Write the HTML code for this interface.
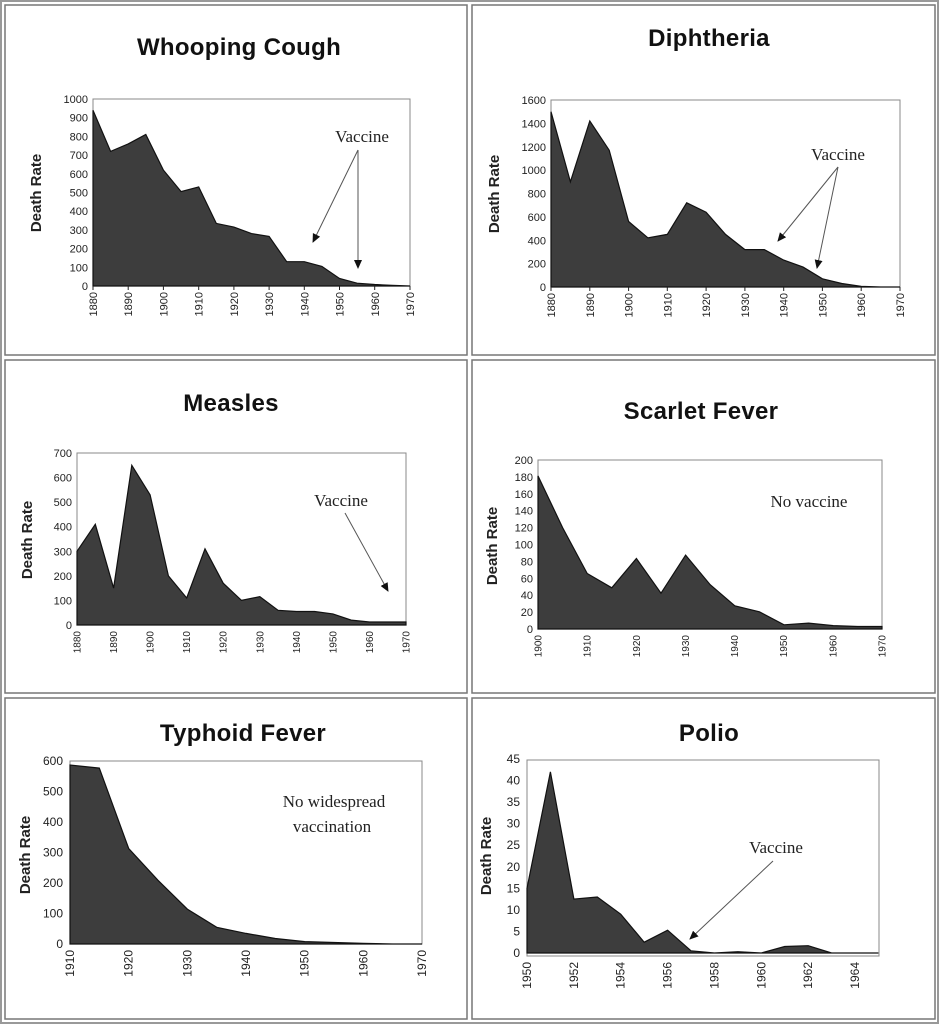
<!DOCTYPE html>
<html><head><meta charset="utf-8"><style>
html,body{margin:0;padding:0;background:#fff;}
svg{display:block;}
.t{font-family:"Liberation Sans",sans-serif;font-weight:bold;font-size:24px;letter-spacing:0.3px;fill:#111;text-anchor:middle;}
.yl{font-family:"Liberation Sans",sans-serif;font-size:11px;fill:#222;text-anchor:end;}
.xl{font-family:"Liberation Sans",sans-serif;font-size:11px;fill:#222;text-anchor:end;}
.ax{font-family:"Liberation Sans",sans-serif;font-weight:bold;font-size:15px;fill:#222;text-anchor:middle;}
.an{font-family:"Liberation Serif",serif;font-size:17px;fill:#222;text-anchor:middle;}
.box{fill:none;stroke:#888;stroke-width:1;}
.area{fill:#3d3d3d;stroke:#111;stroke-width:1.2;}
.arr{stroke:#555;stroke-width:1;fill:none;}
.tk{stroke:#222;stroke-width:1;}
</style></head><body>
<svg width="939" height="1024" viewBox="0 0 939 1024" xmlns="http://www.w3.org/2000/svg">
<defs><marker id="ah" markerWidth="10" markerHeight="10" refX="8" refY="5" orient="auto" markerUnits="userSpaceOnUse"><path d="M0,1 L9,5 L0,9 z" fill="#111"/></marker></defs>
<rect x="1" y="1" width="937" height="1022" fill="none" stroke="#999" stroke-width="2"/>
<rect x="5" y="5" width="462" height="350" fill="none" stroke="#777" stroke-width="1.5"/>
<rect x="472" y="5" width="463" height="350" fill="none" stroke="#777" stroke-width="1.5"/>
<rect x="5" y="360" width="462" height="333" fill="none" stroke="#777" stroke-width="1.5"/>
<rect x="472" y="360" width="463" height="333" fill="none" stroke="#777" stroke-width="1.5"/>
<rect x="5" y="698" width="462" height="321" fill="none" stroke="#777" stroke-width="1.5"/>
<rect x="472" y="698" width="463" height="321" fill="none" stroke="#777" stroke-width="1.5"/>

<!-- Chart 1 -->
<text class="t" x="239" y="55">Whooping Cough</text>
<rect class="box" x="93" y="99" width="317" height="187"/>
<polygon class="area" points="93,286 93,110.2 110.6,151.4 128.2,143.9 145.8,134.5 163.4,170.1 181.1,191.6 198.7,186.9 216.3,223.4 233.9,227.1 251.5,233.6 269.1,236.4 286.7,261.7 304.3,261.7 321.9,266.4 339.5,278.5 357.1,283.2 374.7,284.5 392.4,285.4 410,286"/>
<path class="tk" d="M93,286v4M128.2,286v4M163.4,286v4M198.7,286v4M233.9,286v4M269.1,286v4M304.3,286v4M339.5,286v4M374.7,286v4M410,286v4"/>
<g class="yl"><text x="88" y="290">0</text><text x="88" y="271.3">100</text><text x="88" y="252.6">200</text><text x="88" y="233.9">300</text><text x="88" y="215.2">400</text><text x="88" y="196.5">500</text><text x="88" y="177.8">600</text><text x="88" y="159.1">700</text><text x="88" y="140.4">800</text><text x="88" y="121.7">900</text><text x="88" y="103">1000</text></g>
<g class="xl">
<text transform="translate(97,292) rotate(-90)">1880</text><text transform="translate(132.2,292) rotate(-90)">1890</text><text transform="translate(167.4,292) rotate(-90)">1900</text><text transform="translate(202.7,292) rotate(-90)">1910</text><text transform="translate(237.9,292) rotate(-90)">1920</text><text transform="translate(273.1,292) rotate(-90)">1930</text><text transform="translate(308.3,292) rotate(-90)">1940</text><text transform="translate(343.5,292) rotate(-90)">1950</text><text transform="translate(378.8,292) rotate(-90)">1960</text><text transform="translate(414,292) rotate(-90)">1970</text></g>
<text class="ax" transform="translate(41,193) rotate(-90)">Death Rate</text>
<text class="an" x="362" y="142">Vaccine</text>
<line class="arr" x1="358" y1="150" x2="313" y2="242" marker-end="url(#ah)"/>
<line class="arr" x1="358" y1="150" x2="358" y2="268" marker-end="url(#ah)"/>

<!-- Chart 2 -->
<text class="t" x="709" y="46">Diphtheria</text>
<rect class="box" x="551" y="100" width="349" height="187"/>
<polygon class="area" points="551,287 551,111.7 570.4,181.8 589.8,121 609.2,150.2 628.6,221.5 648,237.9 667.3,234.4 686.7,202.8 706.1,212.2 725.5,234.4 744.9,249.6 764.3,249.6 783.7,260.1 803.1,267.1 822.4,278.8 841.8,283.5 861.2,286.4 880.6,287 900,287"/>
<path class="tk" d="M551,287v4M589.8,287v4M628.6,287v4M667.3,287v4M706.1,287v4M744.9,287v4M783.7,287v4M822.4,287v4M861.2,287v4M900,287v4"/>
<g class="yl"><text x="546" y="291">0</text><text x="546" y="267.6">200</text><text x="546" y="244.3">400</text><text x="546" y="220.9">600</text><text x="546" y="197.5">800</text><text x="546" y="174.1">1000</text><text x="546" y="150.8">1200</text><text x="546" y="127.4">1400</text><text x="546" y="104">1600</text></g>
<g class="xl">
<text transform="translate(555,293) rotate(-90)">1880</text><text transform="translate(593.8,293) rotate(-90)">1890</text><text transform="translate(632.6,293) rotate(-90)">1900</text><text transform="translate(671.3,293) rotate(-90)">1910</text><text transform="translate(710.1,293) rotate(-90)">1920</text><text transform="translate(748.9,293) rotate(-90)">1930</text><text transform="translate(787.7,293) rotate(-90)">1940</text><text transform="translate(826.4,293) rotate(-90)">1950</text><text transform="translate(865.2,293) rotate(-90)">1960</text><text transform="translate(904,293) rotate(-90)">1970</text></g>
<text class="ax" transform="translate(499,194) rotate(-90)">Death Rate</text>
<text class="an" x="838" y="160">Vaccine</text>
<line class="arr" x1="838" y1="167" x2="778" y2="241" marker-end="url(#ah)"/>
<line class="arr" x1="838" y1="167" x2="817" y2="268" marker-end="url(#ah)"/>

<!-- Chart 3 -->
<text class="t" x="231" y="411">Measles</text>
<rect class="box" x="77" y="453" width="329" height="172"/>
<polygon class="area" points="77,625 77,551.3 95.3,524.3 113.6,588.1 131.8,465.3 150.1,494.8 168.4,575.9 186.7,598 205,548.8 223.2,583.2 241.5,600.4 259.8,596.7 278.1,610.3 296.4,611.5 314.6,611.5 332.9,613.9 351.2,620.1 369.5,622 387.7,622 406,622 406,625"/>
<g class="yl"><text x="72" y="629">0</text><text x="72" y="604.4">100</text><text x="72" y="579.9">200</text><text x="72" y="555.3">300</text><text x="72" y="530.7">400</text><text x="72" y="506.1">500</text><text x="72" y="481.6">600</text><text x="72" y="457">700</text></g>
<g class="xl" style="font-size:10px">
<text transform="translate(80.5,631) rotate(-90)">1880</text><text transform="translate(117.1,631) rotate(-90)">1890</text><text transform="translate(153.6,631) rotate(-90)">1900</text><text transform="translate(190.2,631) rotate(-90)">1910</text><text transform="translate(226.7,631) rotate(-90)">1920</text><text transform="translate(263.3,631) rotate(-90)">1930</text><text transform="translate(299.9,631) rotate(-90)">1940</text><text transform="translate(336.4,631) rotate(-90)">1950</text><text transform="translate(373,631) rotate(-90)">1960</text><text transform="translate(409.5,631) rotate(-90)">1970</text></g>
<text class="ax" transform="translate(32,540) rotate(-90)">Death Rate</text>
<text class="an" x="341" y="506">Vaccine</text>
<line class="arr" x1="345" y1="513" x2="388" y2="591" marker-end="url(#ah)"/>

<!-- Chart 4 -->
<text class="t" x="701" y="419">Scarlet Fever</text>
<rect class="box" x="538" y="460" width="344" height="169"/>
<polygon class="area" points="538,629 538,475.9 562.6,527.6 587.2,573.5 611.8,587.8 636.4,558.5 661,593.2 685.6,555.1 710.2,584.7 734.8,605.8 759.4,611.8 784,624.8 808.6,623.1 833.2,625.6 857.8,626.5 882,626.5 882,629"/>
<g class="yl"><text x="533" y="633">0</text><text x="533" y="616.1">20</text><text x="533" y="599.2">40</text><text x="533" y="582.3">60</text><text x="533" y="565.4">80</text><text x="533" y="548.5">100</text><text x="533" y="531.6">120</text><text x="533" y="514.7">140</text><text x="533" y="497.8">160</text><text x="533" y="480.9">180</text><text x="533" y="464">200</text></g>
<g class="xl" style="font-size:10px">
<text transform="translate(541.5,635) rotate(-90)">1900</text><text transform="translate(590.6,635) rotate(-90)">1910</text><text transform="translate(639.8,635) rotate(-90)">1920</text><text transform="translate(688.9,635) rotate(-90)">1930</text><text transform="translate(738.1,635) rotate(-90)">1940</text><text transform="translate(787.2,635) rotate(-90)">1950</text><text transform="translate(836.4,635) rotate(-90)">1960</text><text transform="translate(885.5,635) rotate(-90)">1970</text></g>
<text class="ax" transform="translate(497,546) rotate(-90)">Death Rate</text>
<text class="an" x="809" y="507">No vaccine</text>

<!-- Chart 5 -->
<text class="t" x="243" y="741">Typhoid Fever</text>
<rect class="box" x="70" y="761" width="352" height="183"/>
<polygon class="area" points="70,944 70,765 99.3,768.1 128.7,848.5 158,880.3 187.3,909.1 216.7,927.3 246,933.4 275.3,938.5 304.7,941.6 334,942.5 363.3,943.4 392.7,944 422,944"/>
<g class="yl" style="font-size:12px"><text x="63" y="948">0</text><text x="63" y="917.5">100</text><text x="63" y="887">200</text><text x="63" y="856.5">300</text><text x="63" y="826">400</text><text x="63" y="795.5">500</text><text x="63" y="765">600</text></g>
<g class="xl" style="font-size:12px">
<text transform="translate(74,950) rotate(-90)">1910</text><text transform="translate(132.7,950) rotate(-90)">1920</text><text transform="translate(191.3,950) rotate(-90)">1930</text><text transform="translate(250,950) rotate(-90)">1940</text><text transform="translate(308.7,950) rotate(-90)">1950</text><text transform="translate(367.3,950) rotate(-90)">1960</text><text transform="translate(426,950) rotate(-90)">1970</text></g>
<text class="ax" transform="translate(30,855) rotate(-90)">Death Rate</text>
<text class="an" x="334" y="807">No widespread</text>
<text class="an" x="332" y="832">vaccination</text>

<!-- Chart 6 -->
<text class="t" x="709" y="741">Polio</text>
<rect class="box" x="527" y="760" width="352" height="196"/>
<polygon class="area" points="527,953 527,888.3 550.4,771.9 573.9,899.1 597.3,897 620.7,914.2 644.2,942.2 667.6,930.2 691,950.8 714.4,953 737.9,951.7 761.3,953 784.7,946.5 808.2,945.7 831.6,953 855,953 878.4,953"/>
<g class="yl" style="font-size:12px"><text x="520" y="957">0</text><text x="520" y="935.4">5</text><text x="520" y="913.9">10</text><text x="520" y="892.3">15</text><text x="520" y="870.8">20</text><text x="520" y="849.2">25</text><text x="520" y="827.7">30</text><text x="520" y="806.1">35</text><text x="520" y="784.5">40</text><text x="520" y="763">45</text></g>
<g class="xl" style="font-size:12px">
<text transform="translate(531,962) rotate(-90)">1950</text><text transform="translate(577.9,962) rotate(-90)">1952</text><text transform="translate(624.7,962) rotate(-90)">1954</text><text transform="translate(671.6,962) rotate(-90)">1956</text><text transform="translate(718.4,962) rotate(-90)">1958</text><text transform="translate(765.3,962) rotate(-90)">1960</text><text transform="translate(812.2,962) rotate(-90)">1962</text><text transform="translate(859,962) rotate(-90)">1964</text></g>
<text class="ax" transform="translate(491,856) rotate(-90)">Death Rate</text>
<text class="an" x="776" y="853">Vaccine</text>
<line class="arr" x1="773" y1="861" x2="690" y2="939" marker-end="url(#ah)"/>
</svg>
</body></html>
